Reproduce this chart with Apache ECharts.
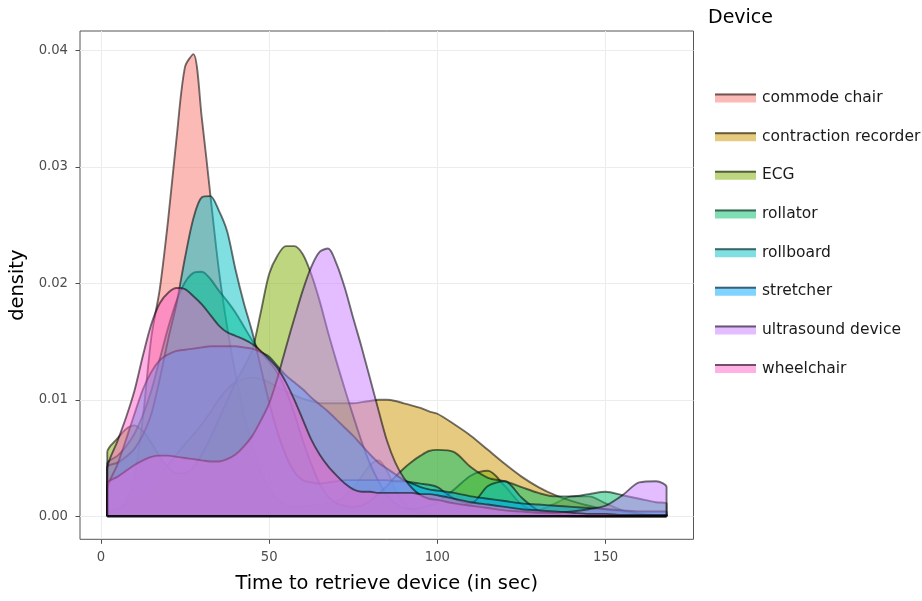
<!DOCTYPE html>
<html>
<head>
<meta charset="utf-8">
<script src="https://cdn.jsdelivr.net/npm/echarts@6/dist/echarts.min.js"></script>
<style>
  html, body { margin: 0; padding: 0; background: #ffffff; }
  #chart { width: 922px; height: 601px; }
</style>
</head>
<body>
<div id="chart"></div>
<script>
// Kernel density estimates of retrieval time, evaluated on a shared time grid (seconds)
const timeGrid = [
  1.9, 5, 7.5, 10, 12.5, 15, 17.5, 20, 22.5, 25,
  27.5, 30, 32.5, 35, 37.5, 40, 42.5, 45, 47.5, 50,
  52.5, 55, 57.5, 60, 62.5, 65, 67.5, 70, 72.5, 75,
  77.5, 80, 82.5, 85, 87.5, 90, 92.5, 95, 97.5, 100,
  105, 110, 115, 120, 125, 130, 135, 140, 145, 150, 155, 160, 165, 168.1
];

const commodeChair = [
  0.0002, 0.0005, 0.0013, 0.0035, 0.0085, 0.0154, 0.0195, 0.0255, 0.0325, 0.0386,
  0.0397, 0.0342, 0.0277, 0.0213, 0.0163, 0.0122, 0.0088, 0.0060, 0.0038, 0.0023,
  0.0014, 0.0010, 0.0008, 0.0008, 0.0009, 0.0010, 0.0011, 0.0013, 0.0017, 0.0024,
  0.0034, 0.0044, 0.0048, 0.0039, 0.0023, 0.0011, 0.0005, 0.0003, 0.0002, 0.0001,
  0.0001, 0.0001, 0.0001, 0.0001, 0.0002, 0.0005, 0.0011, 0.0017, 0.0017, 0.0011, 0.0005, 0.0002, 0.0001, 0.0001
];

const contractionRecorder = [
  0.0003, 0.0006, 0.0010, 0.0015, 0.0020, 0.0027, 0.0035, 0.0044, 0.0053, 0.0062,
  0.0070, 0.0079, 0.0089, 0.0100, 0.0109, 0.0115, 0.0118, 0.0119, 0.0118, 0.0115,
  0.0111, 0.0107, 0.0104, 0.0101, 0.0099, 0.0097, 0.0097, 0.0097, 0.0097, 0.0097,
  0.0098, 0.0099, 0.0100, 0.0100, 0.0099, 0.0097, 0.0095, 0.0093, 0.0090, 0.0088,
  0.0079, 0.0069, 0.0057, 0.0045, 0.0034, 0.0025, 0.0018, 0.0013, 0.0009, 0.0006, 0.0004, 0.0002, 0.0001, 0.0001
];

const ecg = [
  0.0055, 0.0067, 0.0075, 0.0078, 0.0073, 0.0063, 0.0051, 0.0042, 0.0037, 0.0037,
  0.0042, 0.0053, 0.0067, 0.0083, 0.0099, 0.0115, 0.0128, 0.0143, 0.0175, 0.0208,
  0.0224, 0.0232, 0.0232, 0.0225, 0.0208, 0.0185, 0.0158, 0.0133, 0.0109, 0.0086,
  0.0064, 0.0045, 0.0030, 0.0018, 0.0011, 0.0007, 0.0006, 0.0007, 0.0009, 0.0012,
  0.0023, 0.0035, 0.0039, 0.0026, 0.0010, 0.0003, 0.0001, 0, 0, 0, 0, 0, 0, 0
];

const rollator = [
  0.0045, 0.0052, 0.0060, 0.0071, 0.0087, 0.0108, 0.0135, 0.0162, 0.0185, 0.0201,
  0.0209, 0.0210, 0.0204, 0.0194, 0.0185, 0.0175, 0.0163, 0.0151, 0.0141, 0.0133,
  0.0123, 0.0108, 0.0088, 0.0065, 0.0045, 0.0028, 0.0017, 0.0011, 0.0009, 0.0008,
  0.0009, 0.0013, 0.0019, 0.0026, 0.0034, 0.0041, 0.0047, 0.0052, 0.0056, 0.0057,
  0.0055, 0.0042, 0.0033, 0.0030, 0.0025, 0.0020, 0.0017, 0.0017, 0.0019, 0.0021, 0.0018, 0.0015, 0.0012, 0.0011
];

const rollboard = [
  0.0042, 0.0046, 0.0051, 0.0058, 0.0070, 0.0088, 0.0118, 0.0152, 0.0183, 0.0222,
  0.0256, 0.0274, 0.0275, 0.0263, 0.0245, 0.0212, 0.0183, 0.0158, 0.0128, 0.0098,
  0.0072, 0.0052, 0.0038, 0.0031, 0.0029, 0.0028, 0.0029, 0.0030, 0.0031, 0.0031,
  0.0031, 0.0031, 0.0031, 0.0031, 0.0030, 0.0030, 0.0029, 0.0028, 0.0027, 0.0025,
  0.0015, 0.0011, 0.0026, 0.0030, 0.0016, 0.0005, 0.0002, 0.0001, 0, 0, 0, 0, 0, 0
];

const stretcher = [
  0.0022, 0.0045, 0.0066, 0.0088, 0.0109, 0.0124, 0.0134, 0.0139, 0.0142, 0.0143,
  0.0144, 0.0145, 0.0146, 0.0146, 0.0146, 0.0146, 0.0145, 0.0144, 0.0141, 0.0137,
  0.0129, 0.0121, 0.0115, 0.0109, 0.0102, 0.0096, 0.0090, 0.0083, 0.0076, 0.0069,
  0.0061, 0.0053, 0.0046, 0.0041, 0.0036, 0.0031, 0.0028, 0.0025, 0.0023, 0.0022,
  0.0020, 0.0017, 0.0015, 0.0013, 0.0011, 0.0010, 0.0009, 0.0008, 0.0007, 0.0006, 0.0005, 0.0004, 0.0004, 0.0004
];

const ultrasoundDevice = [
  0.0028, 0.0034, 0.0039, 0.0044, 0.0048, 0.0051, 0.0052, 0.0052, 0.0051, 0.0050,
  0.0049, 0.0048, 0.0047, 0.0047, 0.0049, 0.0053, 0.0060, 0.0069, 0.0082, 0.0097,
  0.0119, 0.0145, 0.0170, 0.0194, 0.0214, 0.0227, 0.0230, 0.0217, 0.0196, 0.0170,
  0.0145, 0.0118, 0.0091, 0.0065, 0.0046, 0.0033, 0.0024, 0.0018, 0.0015, 0.0014,
  0.0011, 0.0009, 0.0007, 0.0005, 0.0004, 0.0003, 0.0003, 0.0004, 0.0006, 0.0009, 0.0018, 0.0029, 0.0030, 0.0025
];

const wheelchair = [
  0.0040, 0.0065, 0.0085, 0.0108, 0.0138, 0.0165, 0.0183, 0.0192, 0.0196, 0.0195,
  0.0189, 0.0182, 0.0173, 0.0164, 0.0158, 0.0155, 0.0152, 0.0148, 0.0142, 0.0135,
  0.0127, 0.0115, 0.0100, 0.0083, 0.0066, 0.0053, 0.0043, 0.0035, 0.0028, 0.0023,
  0.0021, 0.0021, 0.0020, 0.0020, 0.0020, 0.0020, 0.0020, 0.0019, 0.0019, 0.0018,
  0.0015, 0.0012, 0.0010, 0.0008, 0.0006, 0.0005, 0.0004, 0.0003, 0.0002, 0.0002, 0.0001, 0.0001, 0.0001, 0.0001
];

const deviceNames = [
  'commode chair', 'contraction recorder', 'ECG', 'rollator',
  'rollboard', 'stretcher', 'ultrasound device', 'wheelchair'
];
const deviceColors = [
  '#F8766D', '#CD9600', '#7CAE00', '#00BE67',
  '#00BFC4', '#00A9FF', '#C77CFF', '#FF61CC'
];

const xTicks = [0, 50, 100, 150];
const yTicks = [0, 0.01, 0.02, 0.03, 0.04];

const densities = [
  commodeChair, contractionRecorder, ecg, rollator,
  rollboard, stretcher, ultrasoundDevice, wheelchair
];

const FONT = 'DejaVu Sans, Verdana, sans-serif';
const OUTLINE = 'rgba(0,0,0,0.55)';

function withAlpha(hex, a) {
  const n = parseInt(hex.slice(1), 16);
  return 'rgba(' + ((n >> 16) & 255) + ',' + ((n >> 8) & 255) + ',' + (n & 255) + ',' + a + ')';
}

const lastX = timeGrid[timeGrid.length - 1];

// One filled, outlined density polygon per device, stacked in drawing order
// (each device gets its own z so later fills cover earlier outlines)
const densitySeries = densities.map((vals, k) => ({
  name: deviceNames[k],
  type: 'line',
  smooth: 0.3,
  symbol: 'none',
  silent: true,
  z: 2 + k,
  data: [[timeGrid[0], 0]]
    .concat(vals.map((v, i) => [timeGrid[i], v]))
    .concat([[lastX, 0]]),
  lineStyle: { color: OUTLINE, width: 1.9 },
  areaStyle: { color: deviceColors[k], opacity: 0.5 },
  itemStyle: { color: deviceColors[k] },
  emphasis: { disabled: true }
}));

// Background grid lines at the tick values, kept beneath the densities
const gridSeries = {
  type: 'line',
  symbol: 'none',
  silent: true,
  z: 0,
  data: [],
  lineStyle: { width: 0 },
  markLine: {
    z: 0,
    silent: true,
    symbol: 'none',
    animation: false,
    label: { show: false },
    lineStyle: { color: '#ececec', width: 1, type: 'solid' },
    emphasis: { disabled: true },
    data: xTicks.map(v => ({ xAxis: v })).concat(yTicks.map(v => ({ yAxis: v })))
  }
};

// Shared baseline along zero density
const baselineSeries = {
  type: 'line',
  symbol: 'none',
  silent: true,
  z: 20,
  data: [[timeGrid[0], 0], [lastX, 0]],
  lineStyle: { color: 'rgba(0,0,0,0.9)', width: 2.6 },
  emphasis: { disabled: true }
};

// Legend drawn as swatches with an outline stroke on top
const legendTop = 93.5;
const legendStep = 38.66;
const legendGraphics = [{
  type: 'text', left: 708, top: 9,
  style: { text: 'Device', font: '19px ' + FONT, fill: '#000000' }
}];
deviceNames.forEach((name, k) => {
  const y = legendTop + k * legendStep;
  legendGraphics.push({
    type: 'rect', shape: { x: 715, y: y, width: 41, height: 9 },
    style: { fill: withAlpha(deviceColors[k], 0.5) }, silent: true
  });
  legendGraphics.push({
    type: 'line', shape: { x1: 715, y1: y + 1, x2: 756, y2: y + 1 },
    style: { stroke: OUTLINE, lineWidth: 2 }, silent: true
  });
  legendGraphics.push({
    type: 'text', x: 762, y: y + 4.5,
    style: { text: name, font: '15.5px ' + FONT, fill: '#1a1a1a', verticalAlign: 'middle', align: 'left' },
    silent: true
  });
});

const chart = echarts.init(document.getElementById('chart'), null, { renderer: 'canvas' });
chart.setOption({
  animation: false,
  backgroundColor: '#ffffff',
  grid: {
    left: 80, top: 31, width: 613.5, height: 508.3,
    show: true, borderColor: '#555555', borderWidth: 1, backgroundColor: 'transparent'
  },
  xAxis: {
    type: 'value',
    min: -6.2,
    max: 176.1,
    axisLine: { show: false, onZero: false },
    splitLine: { show: false },
    axisTick: { show: true, customValues: xTicks, length: 4.5, lineStyle: { color: '#4d4d4d' } },
    axisLabel: {
      customValues: xTicks, color: '#4d4d4d', fontSize: 13.2, fontFamily: FONT, margin: 12,
      formatter: v => String(v)
    },
    name: 'Time to retrieve device (in sec)',
    nameLocation: 'middle',
    nameGap: 35,
    nameTextStyle: { color: '#000000', fontSize: 19.4, fontFamily: FONT }
  },
  yAxis: {
    type: 'value',
    min: -0.001985,
    max: 0.041685,
    axisLine: { show: false, onZero: false },
    splitLine: { show: false },
    axisTick: { show: true, customValues: yTicks, length: 4.5, lineStyle: { color: '#4d4d4d' } },
    axisLabel: {
      customValues: yTicks, color: '#4d4d4d', fontSize: 13.2, fontFamily: FONT, margin: 12,
      formatter: v => v.toFixed(2)
    },
    name: 'density',
    nameLocation: 'middle',
    nameGap: 48,
    nameRotate: 90,
    nameTextStyle: { color: '#000000', fontSize: 19.4, fontFamily: FONT }
  },
  graphic: legendGraphics,
  series: [gridSeries].concat(densitySeries).concat([baselineSeries])
});
</script>
</body>
</html>
